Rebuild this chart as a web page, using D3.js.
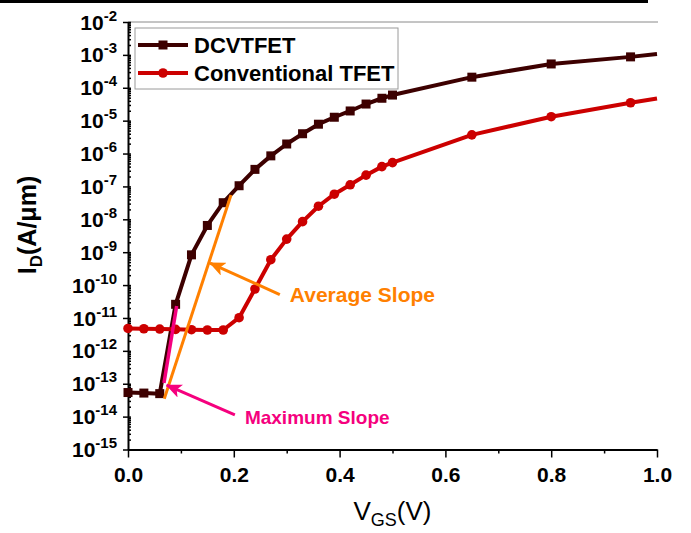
<!DOCTYPE html>
<html>
<head>
<meta charset="utf-8">
<script src="https://cdn.jsdelivr.net/npm/d3@7"></script>
<style>
  body { margin: 0; background: #fff; }
  svg text { font-family: "Liberation Sans", Arial, sans-serif; }
</style>
</head>
<body>
<svg id="chart" width="691" height="533"></svg>
<script>
// data
const vgs = [0, 0.03, 0.06, 0.09, 0.12, 0.15, 0.18, 0.21, 0.24, 0.27, 0.30, 0.33, 0.36, 0.39, 0.42, 0.45, 0.48, 0.50, 0.65, 0.80, 0.95, 1.0];
const idDCVTFET = [5.4e-14, 5.2e-14, 5.0e-14, 2.6e-11, 8.3e-10, 6.5e-9, 3.2e-8, 1.05e-7, 3.3e-7, 8.5e-7, 1.95e-6, 4.0e-6, 7.8e-6, 1.27e-5, 1.97e-5, 3.2e-5, 4.8e-5, 6.0e-5, 2.1e-4, 5.3e-4, 8.7e-4, 1.07e-3];
const idConventional = [4.8e-12, 4.7e-12, 4.6e-12, 4.5e-12, 4.4e-12, 4.3e-12, 4.3e-12, 1.02e-11, 7.6e-11, 5.9e-10, 2.5e-9, 8.5e-9, 2.5e-8, 5.8e-8, 1.12e-7, 2.2e-7, 4.0e-7, 5.3e-7, 3.7e-6, 1.32e-5, 3.5e-5, 4.7e-5];
const seriesNames = ['DCVTFET', 'Conventional TFET'];

const xTicks = [0, 0.2, 0.4, 0.6, 0.8, 1.0];
const xMinorTicks = [0.1, 0.3, 0.5, 0.7, 0.9];
const yTickExponents = [-15, -14, -13, -12, -11, -10, -9, -8, -7, -6, -5, -4, -3, -2];

// annotations (VGS, ID)
const avgSlopeFit = [[0.0686, 3.5e-14], [0.1947, 5.5e-8]];
const maxSlopeFit = [[0.068, 1.05e-13], [0.092, 2.3e-11]];
const avgArrow = [[0.287, 5.15e-11], [0.155, 4.68e-10]];
const maxArrow = [[0.202, 1.12e-14], [0.073, 9.1e-14]];
const avgLabel = { text: 'Average Slope', at: [0.306, 3.1e-11] };
const maxLabel = { text: 'Maximum Slope', at: [0.221, 5.9e-15] };

const colors = { 'DCVTFET': '#3d0000', 'Conventional TFET': '#cc0000' };
const avgColor = '#ff8000';
const maxColor = '#f5007e';

const svg = d3.select('#chart');
const margin = { top: 22, right: 34, bottom: 83.5, left: 128 };
const width = 691 - margin.left - margin.right;
const height = 533 - margin.top - margin.bottom;

const x = d3.scaleLinear().domain([0, 1]).range([0, width]);
const y = d3.scaleLog().domain([1e-15, 1e-2]).range([height, 0]);

// cropped page edge at the very top
svg.append('rect').attr('x', 0).attr('y', 0).attr('width', 648).attr('height', 3).attr('fill', '#000');

const defs = svg.append('defs');
[['avgHead', avgColor], ['maxHead', maxColor]].forEach(([id, c]) => {
  defs.append('marker')
    .attr('id', id)
    .attr('markerUnits', 'userSpaceOnUse')
    .attr('viewBox', '0 0 16 14')
    .attr('markerWidth', 16).attr('markerHeight', 14)
    .attr('refX', 15).attr('refY', 7)
    .attr('orient', 'auto')
    .append('path').attr('d', 'M0,0 L16,7 L0,14 L4,7 Z').attr('fill', c);
});

const g = svg.append('g').attr('transform', `translate(${margin.left},${margin.top})`);

// top frame line
g.append('line').attr('x1', 0).attr('x2', width + 1).attr('y1', 0).attr('y2', 0)
  .attr('stroke', '#8a8a8a').attr('stroke-width', 1);

// Y axis
const yMajor = yTickExponents.map(e => Math.pow(10, e));
const yMinor = [];
yTickExponents.slice(0, -1).forEach(e => {
  for (let k = 2; k <= 9; k++) yMinor.push(k * Math.pow(10, e));
});

const yAxisG = g.append('g')
  .call(d3.axisLeft(y).tickValues(yMajor).tickSizeInner(5).tickSizeOuter(0).tickFormat(''));
g.append('g')
  .call(d3.axisRight(y).tickValues(yMajor.concat(yMinor)).tickSizeInner(3).tickSizeOuter(0).tickFormat(''))
  .call(a => a.select('.domain').remove());
yAxisG.select('.domain').attr('stroke-width', 2);
g.selectAll('.tick line').attr('stroke-width', 1.5);

const yLab = g.append('g').selectAll('text').data(yTickExponents).join('text')
  .attr('x', -11)
  .attr('y', e => y(Math.pow(10, e)))
  .attr('dy', '0.36em')
  .attr('text-anchor', 'end')
  .attr('font-weight', 'bold')
  .attr('font-size', 21)
  .attr('fill', '#000');
yLab.append('tspan').text('10');
yLab.append('tspan').attr('font-size', 15).attr('dy', -9).text(e => String(e));

// X axis
const xAxisG = g.append('g').attr('transform', `translate(0,${height})`)
  .call(d3.axisBottom(x).tickValues(xTicks).tickSizeInner(8).tickSizeOuter(0).tickFormat(d3.format('.1f')));
xAxisG.select('.domain').attr('stroke-width', 2);
xAxisG.selectAll('.tick line').attr('stroke-width', 1.5);
xAxisG.selectAll('text')
  .attr('y', 32).attr('dy', null)
  .attr('font-size', 21).attr('font-weight', 'bold').attr('fill', '#000')
  .attr('font-family', '"Liberation Sans", Arial, sans-serif');
g.append('g').attr('transform', `translate(0,${height})`)
  .call(d3.axisBottom(x).tickValues(xMinorTicks).tickSizeInner(4).tickSizeOuter(0).tickFormat(''))
  .call(a => a.select('.domain').remove())
  .selectAll('.tick line').attr('stroke-width', 1.5);

// axis titles
const yTitle = svg.append('text')
  .attr('transform', 'translate(36,225) rotate(-90)')
  .attr('text-anchor', 'middle')
  .attr('font-size', 25).attr('font-weight', 'bold').attr('fill', '#000');
yTitle.append('tspan').text('I');
yTitle.append('tspan').attr('font-size', 17).attr('dy', 6).text('D');
yTitle.append('tspan').attr('dy', -6).text('(A/\u03bcm)');

const xTitle = svg.append('text')
  .attr('x', margin.left + width / 2).attr('y', 520)
  .attr('text-anchor', 'middle')
  .attr('font-size', 26).attr('fill', '#000');
xTitle.append('tspan').text('V');
xTitle.append('tspan').attr('font-size', 18).attr('dy', 6).text('GS');
xTitle.append('tspan').attr('dy', -6).text('(V)');

// curves
const line = d3.line().x(d => x(d[0])).y(d => y(d[1]));
const seriesData = {
  'DCVTFET': vgs.map((v, i) => [v, idDCVTFET[i]]),
  'Conventional TFET': vgs.map((v, i) => [v, idConventional[i]])
};

seriesNames.forEach(name => {
  const pts = seriesData[name];
  g.append('path')
    .attr('d', line(pts))
    .attr('fill', 'none')
    .attr('stroke', colors[name])
    .attr('stroke-width', 4)
    .attr('stroke-linejoin', 'round');
  const marks = pts.slice(0, -1);
  if (name === 'DCVTFET') {
    g.selectAll(null).data(marks).join('rect')
      .attr('x', d => x(d[0]) - 4.5).attr('y', d => y(d[1]) - 4.5)
      .attr('width', 9).attr('height', 9)
      .attr('fill', colors[name]);
  } else {
    g.selectAll(null).data(marks).join('circle')
      .attr('cx', d => x(d[0])).attr('cy', d => y(d[1]))
      .attr('r', 4.8)
      .attr('fill', colors[name]);
  }
});

// slope annotations
const seg = d3.line().x(d => x(d[0])).y(d => y(d[1]));
g.append('path').attr('d', seg(avgSlopeFit)).attr('stroke', avgColor).attr('stroke-width', 3).attr('fill', 'none');
g.append('path').attr('d', seg(maxSlopeFit)).attr('stroke', maxColor).attr('stroke-width', 3.5).attr('fill', 'none');
g.append('path').attr('d', seg(avgArrow)).attr('stroke', avgColor).attr('stroke-width', 3).attr('fill', 'none')
  .attr('marker-end', 'url(#avgHead)');
g.append('path').attr('d', seg(maxArrow)).attr('stroke', maxColor).attr('stroke-width', 3).attr('fill', 'none')
  .attr('marker-end', 'url(#maxHead)');

g.append('text')
  .attr('x', x(avgLabel.at[0])).attr('y', y(avgLabel.at[1]))
  .attr('font-size', 21).attr('font-weight', 'bold').attr('fill', avgColor)
  .text(avgLabel.text);
g.append('text')
  .attr('x', x(maxLabel.at[0])).attr('y', y(maxLabel.at[1]))
  .attr('font-size', 19).attr('font-weight', 'bold').attr('fill', maxColor)
  .text(maxLabel.text);

// legend
const legend = g.append('g').attr('transform', 'translate(7,6)');
legend.append('rect')
  .attr('x', 0).attr('y', 0).attr('width', 263).attr('height', 61)
  .attr('fill', '#fff').attr('stroke', '#9a9a9a').attr('stroke-width', 1);
seriesNames.forEach((name, i) => {
  const ly = 17 + i * 28;
  const row = legend.append('g').attr('transform', `translate(0,${ly})`);
  row.append('line').attr('x1', 3).attr('x2', 53).attr('y1', 0).attr('y2', 0)
    .attr('stroke', colors[name]).attr('stroke-width', 4);
  if (i === 0) {
    row.append('rect').attr('x', 23.5).attr('y', -4.5).attr('width', 9).attr('height', 9).attr('fill', colors[name]);
  } else {
    row.append('circle').attr('cx', 28).attr('cy', 0).attr('r', 4.8).attr('fill', colors[name]);
  }
  row.append('text')
    .attr('x', 59).attr('y', 8)
    .attr('font-size', 22).attr('font-weight', 'bold').attr('fill', '#000')
    .text(name);
});
</script>
</body>
</html>
